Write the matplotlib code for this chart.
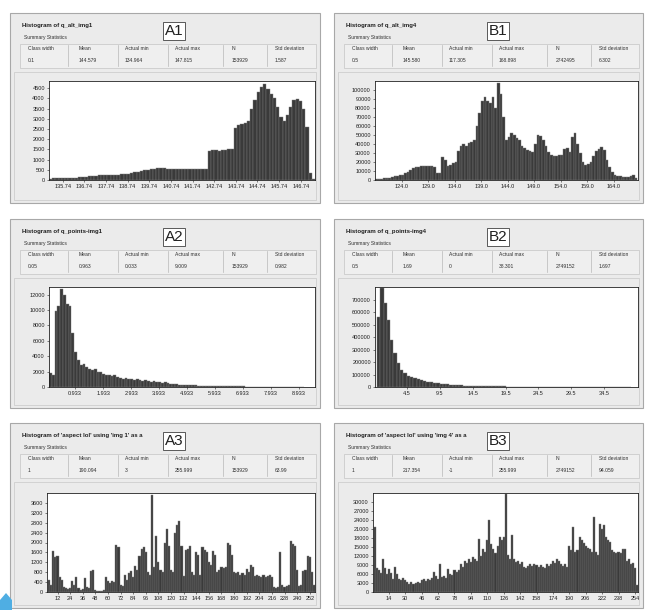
import matplotlib as mpl
mpl.use('Agg')
import matplotlib.pyplot as plt
from matplotlib.patches import Rectangle, Polygon

plt.rcParams['font.family'] = ['Liberation Sans', 'DejaVu Sans']

W, H = 646, 610

# ---- values ----
stat_names = ["Class width", "Mean", "Actual min", "Actual max", "N", "Std deviation"]

a1_title = "Histogram of q_alt_img1"
a1_stats = ["0.1", "144.579", "134.964", "147.815", "153929", "1.587"]
a1_start = 135.1
a1_width = 0.15
a1_counts = [60, 80, 90, 100, 100, 110, 110, 120, 120, 130, 130, 140,
             200, 210, 220, 230, 240, 240, 250, 250, 260, 260, 270, 280,
             300, 330, 370, 410, 440, 480, 510, 540,
             560, 570, 580, 570, 560, 550,
             530, 520, 520, 530, 520, 520, 530, 520, 530, 540, 550,
             1420, 1450, 1460, 1440, 1460, 1480, 1500, 1530,
             2550, 2700, 2750, 2800, 2900,
             3500, 3900, 4300, 4550,
             4700, 4450, 4200, 4000,
             3600, 3100, 2900,
             3200, 3600, 3900, 3950, 3850,
             3500, 2600, 350, 60]
a1_xlabels = ["135.74", "136.74", "137.74", "138.74", "139.74", "140.74",
              "141.74", "142.74", "143.74", "144.74", "145.74", "146.74"]
a1_ylabels = ["0", "500", "1000", "1500", "2000", "2500", "3000", "3500", "4000", "4500"]

b1_title = "Histogram of q_alt_img4"
b1_stats = ["0.5", "145.580", "117.305", "168.898", "2742495", "6.302"]
b1_start = 119.0
b1_width = 0.5
b1_counts = [800, 1200, 1500, 1800, 2200, 2600, 3000,
             4000, 5000, 5500, 6000, 7500, 9000, 11000,
             13000, 14000, 15000, 15500, 16000, 16000, 16000, 15500, 15000,
             8000, 7500, 26000, 22000, 16000, 17000, 18500, 20000, 32000, 38000,
             40000, 38000, 41000, 42000, 44000,
             60000, 75000, 88000, 92000, 88000, 86000, 92000, 80000, 108000, 96000,
             70000, 44000, 48000, 52000, 50000, 47000, 44000, 38000, 36000, 33000,
             32000, 31000, 40000, 50000, 49000, 44000, 38000, 31000, 28000, 27000,
             27000, 27500, 28000, 34000, 36000, 31500, 48000, 52000, 40000, 30000,
             20000, 17000, 18000, 20000, 27000, 32000, 35000, 37000, 33000, 22000,
             15000, 9000, 6000, 4500, 4000, 3500, 3500, 3500, 5000, 6000, 2000]
b1_xlabels = ["124.0", "129.0", "134.0", "139.0", "144.0", "149.0", "154.0", "159.0", "164.0"]
b1_ylabels = ["0", "10000", "20000", "30000", "40000", "50000", "60000", "70000",
              "80000", "90000", "100000"]

a2_title = "Histogram of q_points-img1"
a2_stats = ["0.05", "0.963", "0.033", "9.009", "153929", "0.982"]
a2_start = 0.0
a2_width = 0.1
a2_counts = [1800, 1500, 9900, 10500, 12800, 12000, 10800, 10500, 7000, 4500,
             3500, 2800, 3000, 2600, 2400, 2200, 2300, 2000, 1900, 1700,
             1600, 1500, 1400, 1500, 1300, 1200, 1100, 1200, 1000, 1100,
             900, 1000, 850, 800, 900, 800, 700, 750, 650, 600,
             550, 700, 500, 450, 400, 350, 300, 300, 250, 250,
             220, 200, 200, 180, 170, 160, 150, 150, 140, 130,
             120, 110, 100, 100, 90, 90, 80, 80, 70, 70,
             60, 60, 60, 50, 50, 50, 40, 40, 40, 40,
             30, 30, 30, 30, 20, 20, 20, 20, 20, 20, 10]
a2_xlabels = ["0.933", "1.933", "2.933", "3.933", "4.933", "5.933", "6.933", "7.933", "8.933"]
a2_ylabels = ["0", "2000", "4000", "6000", "8000", "10000", "12000"]

b2_title = "Histogram of q_points-img4"
b2_stats = ["0.5", "1.69", "0", "38.301", "2749152", "1.697"]
b2_start = 0.0
b2_width = 0.5
b2_counts = [560000, 800000, 680000, 540000, 380000, 270000, 190000, 140000, 115000, 90000,
             80000, 72000, 65000, 58000, 50000, 44000, 40000, 36000, 32000, 28000,
             25000, 22000, 20000, 18000, 16000, 14000, 12000, 11000, 10000, 9000,
             8000, 7500, 7000, 6500, 6000, 5500, 5000, 4500, 4200, 4000,
             3800, 3500, 3200, 3000, 2800, 2600, 2400, 2200, 2000, 1900,
             1800, 1700, 1600, 1500, 1400, 1300, 1200, 1100, 1000, 900,
             850, 800, 750, 700, 650, 600, 550, 500, 450, 400,
             350, 300, 250, 200, 150, 100, 50]
b2_xlabels = ["4.5", "9.5", "14.5", "19.5", "24.5", "29.5", "34.5"]
b2_ylabels = ["0", "100000", "200000", "300000", "400000", "500000", "600000", "700000"]

a3_title = "Histogram of 'aspect lol' using 'img 1' as a"
a3_stats = ["1", "190.094", "3", "255.999", "153929", "63.99"]
a3_start = 3.0
a3_width = 2.0
a3_counts = [500, 300, 1650, 1400, 1450, 600, 500, 200, 150, 120,
             150, 450, 300, 600, 150, 100, 120, 550, 200, 150,
             850, 900, 80, 60, 60, 50, 80, 600, 450, 350,
             450, 400, 1900, 1800, 300, 250, 700, 500, 750, 850,
             600, 1050, 900, 1450, 1750, 1800, 1600, 800, 700, 3900,
             1000, 2250, 1200, 900, 800, 2000, 2550, 1850, 900, 800,
             2400, 2700, 2850, 1850, 650, 1700, 1750, 1850, 800, 700,
             1600, 1500, 700, 1800, 1700, 1600, 1200, 1100, 1650, 1500,
             800, 900, 1000, 950, 1000, 2000, 1900, 1500, 800, 750,
             800, 700, 750, 700, 930, 800, 1100, 1000, 650, 700,
             650, 600, 700, 600, 650, 700, 600, 200, 150, 200,
             1620, 300, 200, 250, 300, 2050, 1950, 1850, 900, 250,
             300, 850, 900, 1450, 1400, 800, 300]
a3_xlabels = ["12", "24", "36", "48", "60", "72", "84", "96", "108", "120", "132",
              "144", "156", "168", "180", "192", "204", "216", "228", "240", "252"]
a3_ylabels = ["0", "400", "800", "1200", "1600", "2000", "2400", "2800", "3200", "3600"]

b3_title = "Histogram of 'aspect lol' using 'img 4' as a"
b3_stats = ["1", "217.354", "-1", "255.999", "2749152", "94.059"]
b3_start = -1.0
b3_width = 2.0
b3_counts = [21600, 8000, 7500, 6500, 11000, 8000, 6000, 7800, 6500, 4400,
             8300, 6000, 4400, 4000, 4800, 3900, 3500, 2800, 3200, 2600,
             3100, 3400, 2900, 3900, 4200, 3600, 4400, 4000, 4800, 6700,
             5200, 4400, 9400, 5000, 5500, 4800, 7800, 6100, 5600, 7200,
             6800, 7500, 9400, 8500, 10500, 9800, 11100, 10000, 11700, 11100,
             10500, 17800, 12000, 14400, 13500, 17200, 23900, 16000, 14400, 13000,
             15500, 18300, 17500, 18300, 32700, 12200, 11000, 18900, 11100, 10000,
             10500, 9200, 10000, 8300, 8000, 8800, 9400, 8600, 9400, 8900,
             8200, 9000, 8300, 8000, 9400, 8700, 9400, 10500, 9800, 11100,
             10200, 9400, 8800, 9400, 8300, 15500, 14000, 21600, 13300, 14000,
             18300, 17200, 16500, 15500, 14800, 14400, 13500, 25000, 13300, 12500,
             22800, 21000, 22200, 18300, 17500, 16700, 14000, 13300, 13000, 13500,
             13000, 14400, 14400, 10500, 11000, 9400, 9800, 8000, 2200]
b3_xlabels = ["14", "30", "46", "62", "78", "94", "110", "126", "142", "158",
              "174", "190", "206", "222", "238", "254"]
b3_ylabels = ["0", "3000", "6000", "9000", "12000", "15000", "18000", "21000",
              "24000", "27000", "30000"]


def fx(px):
    return px / W


def fy(py):
    return 1 - py / H


def draw_panel(fig, left, top, right, bottom, title, tag, stats, ax_px,
               start, width, counts, xlim, ylim, xlabels, ylabels):
    # grey window panel
    fig.add_artist(Rectangle((fx(left), fy(bottom)), fx(right - left), (bottom - top) / H,
                             transform=fig.transFigure, facecolor='#EBEBEB',
                             edgecolor='#A8A8A8', lw=0.8, zorder=-5))
    fig.text(fx(left + 12), fy(top + 13), title, fontsize=4.3, fontweight='bold',
             va='center', ha='left', color='#202020')
    # tag box (A1, B2 ...)
    fig.text(fx(left + 164), fy(top + 18), tag, fontsize=11, va='center', ha='center',
             color='#202020',
             bbox=dict(boxstyle='square,pad=0.1', facecolor='white', edgecolor='#404040', lw=0.6))
    fig.text(fx(left + 14), fy(top + 25), "Summary Statistics", fontsize=3.6,
             va='center', ha='left', color='#303030')
    # table frame
    fig.add_artist(Rectangle((fx(left + 10), fy(top + 55)), fx(right - left - 14), 24 / H,
                             transform=fig.transFigure, facecolor='#EFEFEF',
                             edgecolor='#C4C4C4', lw=0.5, zorder=-4))
    col_x = [18, 69, 115, 165, 222, 265]
    sep_x = [58, 108, 158, 213, 257]
    for cx, name, val in zip(col_x, stat_names, stats):
        fig.text(fx(left + cx), fy(top + 36), name, fontsize=3.6, va='center', ha='left',
                 color='#303030')
        fig.text(fx(left + cx), fy(top + 48), val, fontsize=3.6, va='center', ha='left',
                 color='#303030')
    for sx in sep_x:
        fig.add_artist(plt.Line2D([fx(left + sx)] * 2, [fy(top + 32), fy(top + 53)],
                                  transform=fig.transFigure, color='#B8B8B8', lw=0.5,
                                  zorder=-3))
    # chart frame
    fig.add_artist(Rectangle((fx(left + 4), fy(bottom - 3)), fx(right - left - 8),
                             (bottom - top - 62) / H, transform=fig.transFigure,
                             facecolor='none', edgecolor='#C8C8C8', lw=0.5, zorder=-3))

    al, at, ar, ab = ax_px
    ax = fig.add_axes([fx(al), fy(ab), fx(ar - al), (ab - at) / H])
    ax.set_zorder(5)
    edges = [start + width * i for i in range(len(counts))]
    ax.bar(edges, counts, width=width, align='edge', color='#3A3A3A',
           edgecolor='#7A7A7A', linewidth=0.3)
    ax.set_xlim(*xlim)
    ax.set_ylim(*ylim)
    ax.set_xticks([float(s) for s in xlabels], xlabels)
    ax.set_yticks([float(s) for s in ylabels], ylabels)
    ax.tick_params(labelsize=4.0, length=1.5, width=0.4, pad=1.5, colors='#202020')
    for sp in ax.spines.values():
        sp.set_linewidth(0.6)
        sp.set_color('#202020')
    ax.set_facecolor('white')
    return ax


fig = plt.figure(figsize=(W / 100, H / 100), dpi=100)
fig.patch.set_facecolor('white')

draw_panel(fig, 10, 13, 320, 203, a1_title, "A1", a1_stats, (49, 81, 315, 180),
           a1_start, a1_width, a1_counts, (135.1, 147.4), (0, 4850), a1_xlabels, a1_ylabels)
draw_panel(fig, 334, 13, 643, 203, b1_title, "B1", b1_stats, (375, 81, 638, 180),
           b1_start, b1_width, b1_counts, (119.0, 168.6), (0, 110000), b1_xlabels, b1_ylabels)
draw_panel(fig, 10, 219, 320, 408, a2_title, "A2", a2_stats, (49, 287, 315, 387),
           a2_start, a2_width, a2_counts, (0, 9.5), (0, 13000), a2_xlabels, a2_ylabels)
draw_panel(fig, 334, 219, 643, 408, b2_title, "B2", b2_stats, (375, 287, 638, 387),
           b2_start, b2_width, b2_counts, (-0.3, 39.6), (0, 805000), b2_xlabels, b2_ylabels)
draw_panel(fig, 10, 423, 320, 608, a3_title, "A3", a3_stats, (47, 493, 315, 592),
           a3_start, a3_width, a3_counts, (2, 257), (0, 4000), a3_xlabels, a3_ylabels)
draw_panel(fig, 334, 423, 643, 608, b3_title, "B3", b3_stats, (373, 493, 638, 592),
           b3_start, b3_width, b3_counts, (-1.5, 257), (0, 33000), b3_xlabels, b3_ylabels)

# small blue mark in the lower left corner
fig.add_artist(Polygon([(fx(0), fy(610)), (fx(0), fy(600)), (fx(6), fy(593)),
                        (fx(12), fy(600)), (fx(12), fy(610))],
                       closed=True, transform=fig.transFigure, facecolor='#4FAEE3',
                       edgecolor='none'))

fig.savefig("out.png", dpi=100)
